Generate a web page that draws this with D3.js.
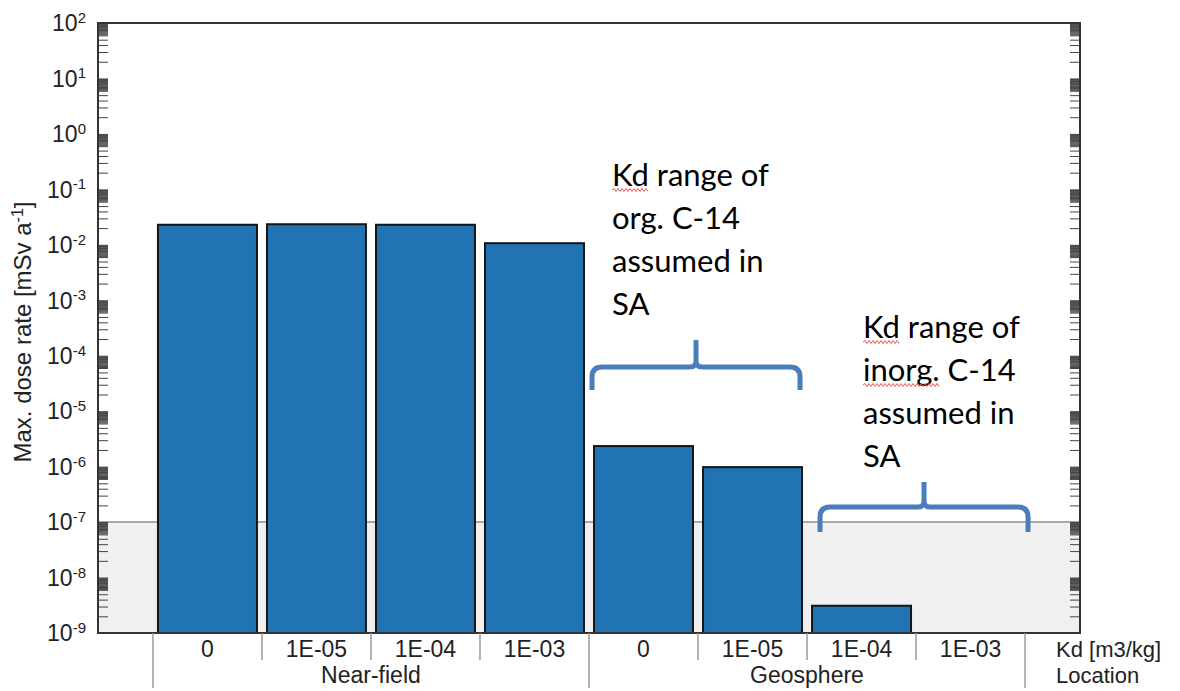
<!DOCTYPE html>
<html>
<head>
<meta charset="utf-8">
<script src="https://cdn.jsdelivr.net/npm/d3@7"></script>
<style>
  body { margin: 0; background: #fff; }
  svg { display: block; }
</style>
</head>
<body>
<svg id="chart" width="1180" height="691"></svg>
<script>
// chart values
var kdLabels = ["0", "1E-05", "1E-04", "1E-03", "0", "1E-05", "1E-04", "1E-03"];
var locations = ["Near-field", "Geosphere"];
var barsPerLocation = 4;
var doseRates = [2.3e-2, 2.35e-2, 2.3e-2, 1.07e-2, 2.35e-6, 9.8e-7, 3.1e-9, null];
var exponents = [-9, -8, -7, -6, -5, -4, -3, -2, -1, 0, 1, 2];
var threshold = 1e-7;
var orgNote = ["Kd range of", "org. C-14", "assumed in", "SA"];
var inorgNote = ["Kd range of", "inorg. C-14", "assumed in", "SA"];

var svg = d3.select("#chart");
var arial = "'Liberation Sans', Arial, sans-serif";

var plotLeft = 98, plotRight = 1080, plotTop = 23, plotBottom = 633;

var x = d3.scaleBand()
  .domain(d3.range(kdLabels.length))
  .range([plotLeft, plotRight])
  .paddingInner(0.092)
  .paddingOuter(0.55);

var y = d3.scaleLog()
  .domain([1e-9, 1e2])
  .range([plotBottom, plotTop]);

var gap = x.step() - x.bandwidth();

// grey zone below the threshold
svg.append("rect")
  .attr("x", plotLeft).attr("y", y(threshold))
  .attr("width", plotRight - plotLeft).attr("height", plotBottom - y(threshold))
  .attr("fill", "#f0f0f0");
svg.append("line")
  .attr("x1", plotLeft).attr("x2", plotRight)
  .attr("y1", y(threshold)).attr("y2", y(threshold))
  .attr("stroke", "#a8a8a8").attr("stroke-width", 2);

// bars
var barData = doseRates.map(function (v, i) { return { v: v, i: i }; })
  .filter(function (d) { return d.v != null; });

svg.append("g").selectAll("rect").data(barData).join("rect")
  .attr("x", function (d) { return x(d.i); })
  .attr("y", function (d) { return y(d.v); })
  .attr("width", x.bandwidth())
  .attr("height", function (d) { return plotBottom - y(d.v); })
  .attr("fill", "#2174b3")
  .attr("stroke", "#151515")
  .attr("stroke-width", 2);

// log ticks, inward on both sides
var minor = [];
exponents.slice(0, -1).forEach(function (e) {
  [2, 3, 4, 5].concat(d3.range(6, 10, 0.25)).forEach(function (k) {
    minor.push(k * Math.pow(10, e));
  });
});
var majors = exponents.map(function (e) { return Math.pow(10, e); });

var leftAxis = svg.append("g")
  .attr("transform", "translate(" + plotLeft + ",0)")
  .call(d3.axisLeft(y).tickValues(minor.concat(majors)).tickSize(-10).tickFormat(""));
var rightAxis = svg.append("g")
  .attr("transform", "translate(" + plotRight + ",0)")
  .call(d3.axisRight(y).tickValues(minor.concat(majors)).tickSize(-10).tickFormat(""));
[leftAxis, rightAxis].forEach(function (g) {
  g.select(".domain").remove();
  g.selectAll("line").attr("stroke", "#444").attr("stroke-width", 1);
});

// frame
svg.append("rect")
  .attr("x", plotLeft).attr("y", plotTop)
  .attr("width", plotRight - plotLeft).attr("height", plotBottom - plotTop)
  .attr("fill", "none").attr("stroke", "#333").attr("stroke-width", 2);

// y tick labels 10^n
var yLab = svg.append("g").selectAll("text").data(exponents).join("text")
  .attr("x", plotLeft - 12)
  .attr("y", function (e) { return y(Math.pow(10, e)); })
  .attr("dy", "0.36em")
  .attr("text-anchor", "end")
  .attr("fill", "#222")
  .style("font-family", arial)
  .style("font-size", "23px");
yLab.append("tspan").text("10");
yLab.append("tspan").attr("dy", "-0.55em").style("font-size", "15px")
  .text(function (e) { return e; });

// y title
var yTitle = svg.append("text")
  .attr("transform", "translate(31," + ((plotTop + plotBottom) / 2 + 4) + ") rotate(-90)")
  .attr("text-anchor", "middle")
  .attr("fill", "#222")
  .style("font-family", arial)
  .style("font-size", "24px");
yTitle.append("tspan").text("Max. dose rate [mSv a");
yTitle.append("tspan").attr("dy", "-0.5em").style("font-size", "16px").text("-1");
yTitle.append("tspan").attr("dy", "0.35em").text("]");

// category table under the plot
var edge = function (i) { return x(i) - gap / 2; };
var sep = svg.append("g").attr("stroke", "#9a9a9a").attr("stroke-width", 1.5);
d3.range(kdLabels.length + 1).forEach(function (i) {
  var full = i % barsPerLocation === 0;
  var xi = i < kdLabels.length ? edge(i) : x(i - 1) + x.bandwidth() + gap / 2;
  sep.append("line")
    .attr("x1", xi).attr("x2", xi)
    .attr("y1", plotBottom).attr("y2", full ? plotBottom + 55 : plotBottom + 27);
});

svg.append("g").selectAll("text").data(kdLabels).join("text")
  .attr("x", function (d, i) { return x(i) + x.bandwidth() / 2; })
  .attr("y", plotBottom + 24)
  .attr("text-anchor", "middle")
  .attr("fill", "#222")
  .style("font-family", arial)
  .style("font-size", "23px")
  .text(function (d) { return d; });

svg.append("g").selectAll("text").data(locations).join("text")
  .attr("x", function (d, j) {
    var a = edge(j * barsPerLocation);
    var b = x((j + 1) * barsPerLocation - 1) + x.bandwidth() + gap / 2;
    return (a + b) / 2;
  })
  .attr("y", plotBottom + 50)
  .attr("text-anchor", "middle")
  .attr("fill", "#222")
  .style("font-family", arial)
  .style("font-size", "23px")
  .text(function (d) { return d; });

svg.append("text")
  .attr("x", plotRight - 24).attr("y", plotBottom + 24)
  .attr("fill", "#222").style("font-family", arial).style("font-size", "22px")
  .text("Kd [m3/kg]");
svg.append("text")
  .attr("x", plotRight - 24).attr("y", plotBottom + 50)
  .attr("fill", "#222").style("font-family", arial).style("font-size", "22px")
  .text("Location");

// curly braces
function bracePath(x0, x1, yh, depth, peak) {
  var xm = (x0 + x1) / 2, r = 10, s = 6;
  return "M" + x0 + "," + (yh + depth) +
    " L" + x0 + "," + (yh + r) +
    " Q" + x0 + "," + yh + " " + (x0 + r) + "," + yh +
    " L" + (xm - s) + "," + yh +
    " Q" + xm + "," + yh + " " + xm + "," + (yh - s) +
    " L" + xm + "," + (yh - peak) +
    " M" + xm + "," + (yh - s) +
    " Q" + xm + "," + yh + " " + (xm + s) + "," + yh +
    " L" + (x1 - r) + "," + yh +
    " Q" + x1 + "," + yh + " " + x1 + "," + (yh + r) +
    " L" + x1 + "," + (yh + depth);
}

svg.append("path")
  .attr("d", bracePath(x(4) - 2, x(5) + x.bandwidth() - 2, 367, 23, 27))
  .attr("fill", "none").attr("stroke", "#4a7ebb").attr("stroke-width", 5);
svg.append("path")
  .attr("d", bracePath(x(6) + 8, x(7) + x.bandwidth() + 8, 507, 25, 25))
  .attr("fill", "none").attr("stroke", "#4a7ebb").attr("stroke-width", 5);

// notes
function squiggle(x0, x1, yy) {
  var p = "M" + x0 + "," + yy;
  var up = true;
  for (var xx = x0 + 2; xx <= x1; xx += 2) {
    p += " L" + xx + "," + (yy + (up ? -1.5 : 1.5));
    up = !up;
  }
  return p;
}

function note(lines, x0, y0, marks) {
  var g = svg.append("g");
  lines.forEach(function (line, k) {
    var t = g.append("text")
      .attr("x", x0).attr("y", y0 + k * 43)
      .attr("fill", "#000")
      .style("font-family", "Lato, 'Open Sans', sans-serif")
      .style("font-size", "31px")
      .text(line);
    if (marks[k]) {
      var w = t.node().getSubStringLength(0, marks[k]);
      g.append("path")
        .attr("d", squiggle(x0, x0 + w, y0 + k * 43 + 4))
        .attr("fill", "none").attr("stroke", "#e55").attr("stroke-width", 1);
    }
  });
}

note(orgNote, 612, 186, [2, 0, 0, 0]);
note(inorgNote, 863, 338, [2, 6, 0, 0]);
</script>
</body>
</html>
